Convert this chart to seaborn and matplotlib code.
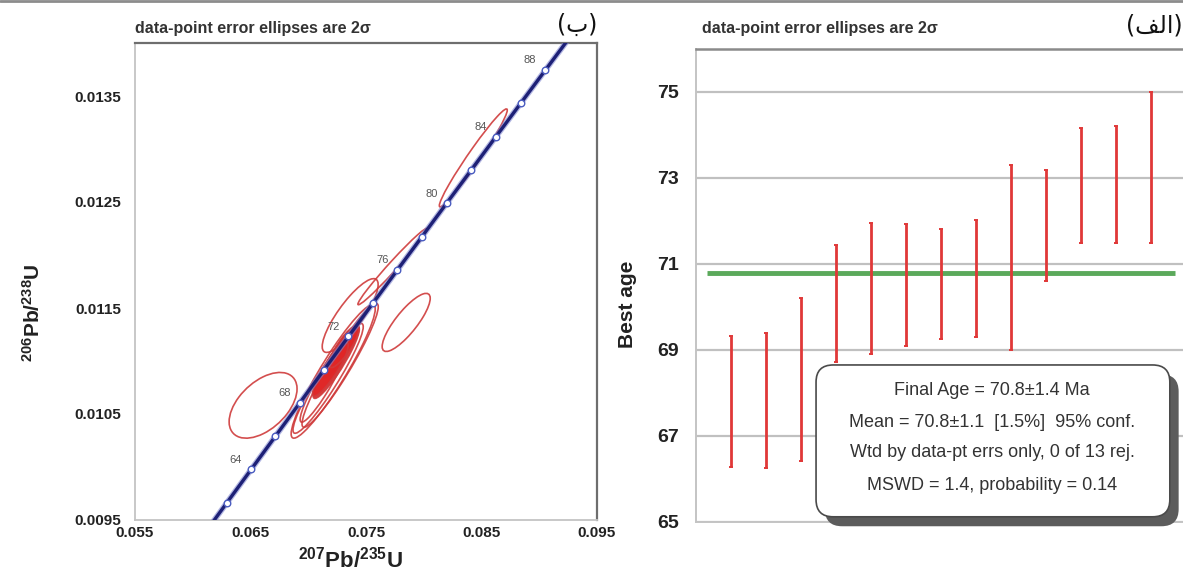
import numpy as np
import matplotlib
matplotlib.use("Agg")
import matplotlib.pyplot as plt
from matplotlib.patches import Ellipse, FancyBboxPatch
from matplotlib.lines import Line2D
import seaborn as sns

# ---- concordia reference points (age in Ma, 207Pb/235U, 206Pb/238U) ----
conc_age = [60, 62, 64, 66, 68, 70, 72, 74, 76, 78, 80, 82, 84, 86, 88, 90]
conc_x = [0.060872, 0.062964, 0.065059, 0.067159, 0.069263, 0.071372, 0.073484, 0.075600,
          0.077722, 0.079846, 0.081975, 0.084109, 0.086245, 0.088387, 0.090532, 0.092683]
conc_y = [0.0093510, 0.0096642, 0.0099774, 0.0102909, 0.0106043, 0.0109180, 0.0112316, 0.0115454,
          0.0118593, 0.0121733, 0.0124873, 0.0128015, 0.0131158, 0.0134302, 0.0137446, 0.0140592]
conc_labeled = [64, 68, 72, 76, 80, 84, 88]

# ---- analyses: ratio centres, 1-sigma errors and error correlation ----
ell_x = [0.06609, 0.07848, 0.07363, 0.07730, 0.08429, 0.07216, 0.07276,
         0.07172, 0.07242, 0.07276, 0.07207, 0.07311, 0.07138]
ell_y = [0.010582, 0.011364, 0.011429, 0.011891, 0.012916, 0.010902, 0.010959,
         0.010836, 0.010987, 0.011081, 0.010949, 0.011138, 0.010799]
ell_sx = [0.00147, 0.00104, 0.00121, 0.00150, 0.00147, 0.00182, 0.00165,
          0.00152, 0.00100, 0.00075, 0.00085, 0.00065, 0.00104]
ell_sy = [0.000155, 0.000137, 0.000174, 0.000180, 0.000231, 0.000315, 0.000292,
          0.000259, 0.000170, 0.000122, 0.000140, 0.000100, 0.000188]
ell_rho = [0.50, 0.83, 0.84, 0.985, 0.975, 0.935, 0.945,
           0.94, 0.92, 0.90, 0.91, 0.85, 0.93]
ell_filled = [False, False, False, False, False, False, False,
              False, True, True, True, True, False]

# ---- weighted mean of best ages ----
spot = list(range(1, 14))
best_age = [67.81, 67.83, 68.32, 70.08, 70.43, 70.51, 70.53, 70.66, 71.15, 71.90, 72.82, 72.84, 73.24]
age_err = [1.52, 1.57, 1.89, 1.37, 1.53, 1.42, 1.28, 1.36, 2.16, 1.29, 1.34, 1.36, 1.76]
mean_age = 70.8
summary_lines = [
    "Final Age = 70.8\u00b11.4 Ma",
    "Mean = 70.8\u00b11.1  [1.5%]  95% conf.",
    "Wtd by data-pt errs only, 0 of 13 rej.",
    "MSWD = 1.4, probability = 0.14",
]

left_xticks = [0.055, 0.065, 0.075, 0.085, 0.095]
left_yticks = [0.0095, 0.0105, 0.0115, 0.0125, 0.0135]
right_yticks = [65, 67, 69, 71, 73, 75]

sns.set_theme(style="white")
plt.rcParams["font.family"] = ["Liberation Sans", "DejaVu Sans"]
plt.rcParams["mathtext.fontset"] = "custom"
plt.rcParams["mathtext.rm"] = "Liberation Sans"
plt.rcParams["mathtext.bf"] = "Liberation Sans:bold"
plt.rcParams["mathtext.default"] = "bf"

W, H = 1183, 576
fig = plt.figure(figsize=(W / 100, H / 100), dpi=100)
fig.patch.set_facecolor("white")


def px_axes(l, t, r, b):
    return fig.add_axes([l / W, 1 - b / H, (r - l) / W, (b - t) / H])


# ================= left: concordia diagram =================
ax = px_axes(135, 43, 597, 520)
ax.set_xlim(0.055, 0.095)
ax.set_ylim(0.0095, 0.0140)

red = "#cf3b3b"
for x, y, sx, sy, r, filled in zip(ell_x, ell_y, ell_sx, ell_sy, ell_rho, ell_filled):
    cov = np.array([[sx * sx, r * sx * sy], [r * sx * sy, sy * sy]])
    vals, vecs = np.linalg.eigh(cov)
    major = vecs[:, 1]
    ang = np.degrees(np.arctan2(major[1], major[0]))
    e = Ellipse((x, y), width=4 * np.sqrt(vals[1]), height=4 * np.sqrt(vals[0]),
                angle=ang, facecolor=(0.88, 0.15, 0.15, 0.3) if filled else "none",
                edgecolor=red, lw=1.2, alpha=0.9, zorder=2)
    ax.add_patch(e)

sns.lineplot(x=conc_x, y=conc_y, sort=False, ax=ax, color="#7f86cf", lw=4.2, alpha=0.6, zorder=3)
sns.lineplot(x=conc_x, y=conc_y, sort=False, ax=ax, color="#1d2076", lw=2.4, zorder=4)
sns.scatterplot(x=conc_x, y=conc_y, ax=ax, marker="o", s=22, facecolor="white",
                edgecolor="#4a5cc0", linewidth=1.0, zorder=5)
for a, x, y in zip(conc_age, conc_x, conc_y):
    if a in conc_labeled:
        ax.annotate(str(a), (x, y), xytext=(-11, 7), textcoords="offset points",
                    ha="center", va="center", fontsize=8, color="#555555", zorder=6)

ax.set_xticks(left_xticks)
ax.set_xticklabels([f"{v:.3f}" for v in left_xticks])
ax.set_yticks(left_yticks)
ax.set_yticklabels([f"{v:.4f}" for v in left_yticks])
ax.tick_params(axis="both", direction="in", length=3, color="#c8c8c8", labelsize=11,
               labelcolor="#222222")
ax.tick_params(axis="y", pad=10)
ax.tick_params(axis="x", pad=4)
for lab in ax.get_xticklabels() + ax.get_yticklabels():
    lab.set_fontweight("bold")
for side in ["left", "bottom"]:
    ax.spines[side].set_color("#c4c4c4")
    ax.spines[side].set_linewidth(1.3)
for side in ["top", "right"]:
    ax.spines[side].set_color("#6e6e6e")
    ax.spines[side].set_linewidth(1.6)

ax.set_xlabel(r"$^{207}$Pb/$^{235}$U", fontsize=16, fontweight="bold", color="#222222")
ax.xaxis.set_label_coords(0.467, -0.055)
ax.set_ylabel(r"$^{206}$Pb/$^{238}$U", fontsize=15, fontweight="bold", color="#222222")
ax.yaxis.set_label_coords(-0.197, 0.435)

# ================= right: weighted mean of ages =================
ax2 = px_axes(696, 49, 1186, 522)
ax2.set_xlim(0, 14)
ax2.set_ylim(65, 76)
ax2.set_yticks(right_yticks)
ax2.set_xticks([])
ax2.grid(axis="y", color="#c0c0c0", lw=1.6)
ax2.set_axisbelow(True)
ax2.hlines(mean_age, 0.3, 13.7, color="#3e9a3e", lw=3.5, alpha=0.85, zorder=3)
ax2.errorbar(spot, best_age, yerr=age_err, fmt="none", ecolor="#e03838",
             elinewidth=2.0, capsize=1.6, capthick=1.4, zorder=4)
ax2.tick_params(axis="y", length=0, pad=12, labelsize=14, labelcolor="#222222")
for lab in ax2.get_yticklabels():
    lab.set_fontweight("bold")
for side in ["left", "bottom"]:
    ax2.spines[side].set_color("#c4c4c4")
    ax2.spines[side].set_linewidth(1.4)
for side in ["top", "right"]:
    ax2.spines[side].set_color("#8a8a8a")
    ax2.spines[side].set_linewidth(1.8)
ax2.set_ylabel("Best age", fontsize=15, fontweight="bold", color="#222222")
ax2.yaxis.set_label_coords(-0.12, 0.46)

# summary box with drop shadow
bx0, by0, bw, bh = 0.245, 0.011, 0.722, 0.321
asp = 490 / 473
shadow = FancyBboxPatch((bx0 + 0.018, by0 - 0.02), bw, bh, transform=ax2.transAxes,
                        boxstyle="round,pad=0,rounding_size=0.035", mutation_aspect=asp,
                        facecolor="#5c5c5c", edgecolor="none", clip_on=False, zorder=6)
box = FancyBboxPatch((bx0, by0), bw, bh, transform=ax2.transAxes,
                     boxstyle="round,pad=0,rounding_size=0.035", mutation_aspect=asp,
                     facecolor="white", edgecolor="#4a4a4a", lw=1.2, clip_on=False, zorder=7)
ax2.add_patch(shadow)
ax2.add_patch(box)
for txt, ty in zip(summary_lines, [0.277, 0.211, 0.146, 0.078]):
    ax2.text(0.604, ty, txt, transform=ax2.transAxes, ha="center", va="center",
             fontsize=13, color="#333333", zorder=8)

# ---- panel headers ----
fig.text(135 / W, 1 - 28 / H, "data-point error ellipses are 2\u03c3", ha="left", va="center",
         fontsize=11.5, fontweight="bold", color="#333333")
fig.text(702 / W, 1 - 29 / H, "data-point error ellipses are 2\u03c3", ha="left", va="center",
         fontsize=11.5, fontweight="bold", color="#333333")
fig.text(597 / W, 1 - 25 / H, "(\u0628)", ha="right", va="center", fontsize=17, color="#111111",
         family=["DejaVu Sans"])
fig.text(1183 / W, 1 - 25 / H, "(\ufed2\ufedf\ufe8d)", ha="right", va="center", fontsize=17,
         color="#111111", family=["DejaVu Sans"])

fig.add_artist(Line2D([0, 1], [1 - 1 / H, 1 - 1 / H], color="#8c8c8c", lw=2))

fig.savefig("out.png", dpi=100)
